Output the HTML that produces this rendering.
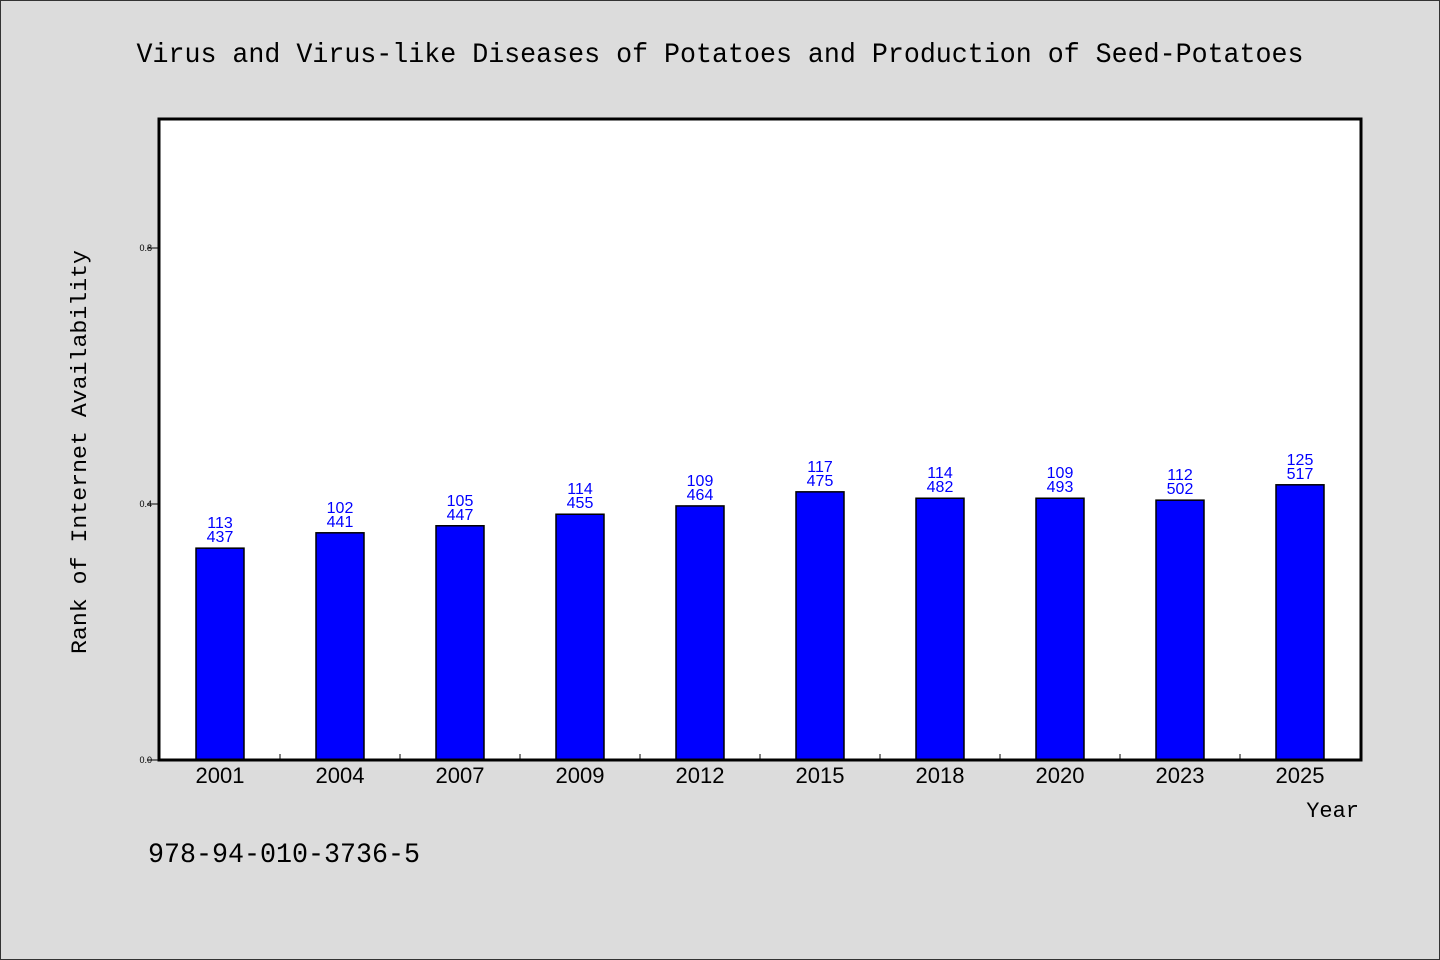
<!DOCTYPE html>
<html><head><meta charset="utf-8"><style>
html,body{margin:0;padding:0;background:#dcdcdc;}
svg{display:block;}
text{font-family:"Liberation Sans","WenQuanYi Zen Hei",sans-serif;}
.mono{font-family:"WenQuanYi Zen Hei","Liberation Mono",monospace;}
</style></head><body>
<svg id="chart" width="1440" height="960" xmlns="http://www.w3.org/2000/svg">
<rect x="0.5" y="0.5" width="1439" height="959" fill="#dcdcdc" stroke="#333"/>
<text class="mono" x="720" y="62" font-size="28" text-anchor="middle" textLength="1167" lengthAdjust="spacingAndGlyphs">Virus and Virus-like Diseases of Potatoes and Production of Seed-Potatoes</text>
<rect x="159" y="119" width="1202" height="641" fill="#fff"/>
<g id="bars"></g>
<g id="labels"></g>
<g id="axes"></g>
<rect x="159" y="119" width="1202" height="641" fill="none" stroke="#000" stroke-width="3"/>
<text class="mono" x="86" y="452" font-size="22" text-anchor="middle" transform="rotate(-90 86 452)" textLength="404" lengthAdjust="spacingAndGlyphs">Rank of Internet Availability</text>
<text class="mono" x="1359" y="817" font-size="22" text-anchor="end">Year</text>
<text class="mono" x="148" y="862" font-size="28" textLength="272" lengthAdjust="spacingAndGlyphs">978-94-010-3736-5</text>
</svg>
<script>
const categories=["2001","2004","2007","2009","2012","2015","2018","2020","2023","2025"];
const values=[0.331,0.355,0.366,0.384,0.397,0.419,0.409,0.409,0.406,0.430];
const topLabels=["113","102","105","114","109","117","114","109","112","125"];
const bottomLabels=["437","441","447","455","464","475","482","493","502","517"];
const yTicks=[0.0,0.4,0.8];
const yTickLabels=["0.0","0.4","0.8"];
const NS="http://www.w3.org/2000/svg";
const X0=160,X1=1360,Y0=760,Y1=120;
const band=(X1-X0)/categories.length;
const xc=i=>X0+band*(i+0.5);
const y=v=>Y0-(v/1.0)*(Y0-Y1);
function mk(tag,attrs,parent,txt){const e=document.createElementNS(NS,tag);for(const k in attrs)e.setAttribute(k,attrs[k]);if(txt!==undefined)e.textContent=txt;parent.appendChild(e);return e;}
const gb=document.getElementById('bars'),gl=document.getElementById('labels'),ga=document.getElementById('axes');
categories.forEach((c,i)=>{
  const r=mk('rect',{x:xc(i)-24,y:y(values[i]),width:48,height:Y0-y(values[i]),fill:'#0000ff',stroke:'#000','stroke-width':1.5},gb);
  
  
  const t1=mk('text',{x:xc(i),y:y(values[i])-20,'font-size':16,fill:'#0000ff','text-anchor':'middle'},gl,topLabels[i]);
  
  
  const t2=mk('text',{x:xc(i),y:y(values[i])-6,'font-size':16,fill:'#0000ff','text-anchor':'middle'},gl,bottomLabels[i]);
  
  
  const xl=mk('text',{x:xc(i),y:783,'font-size':22,'text-anchor':'middle'},ga,c);
  
  
  if(i>0){const tk=mk('line',{x1:X0+band*i,x2:X0+band*i,y1:760,y2:754,stroke:'#000','stroke-width':1},ga);
  
  }
});
yTicks.forEach((v,i)=>{
  const tk=mk('line',{x1:147,x2:159,y1:y(v),y2:y(v),stroke:'#000','stroke-width':1},ga);
  
  
  const tl=mk('text',{x:152,y:y(v)+3,'font-size':9,'text-anchor':'end'},ga,yTickLabels[i]);
  
  
});
</script>
</body></html>
